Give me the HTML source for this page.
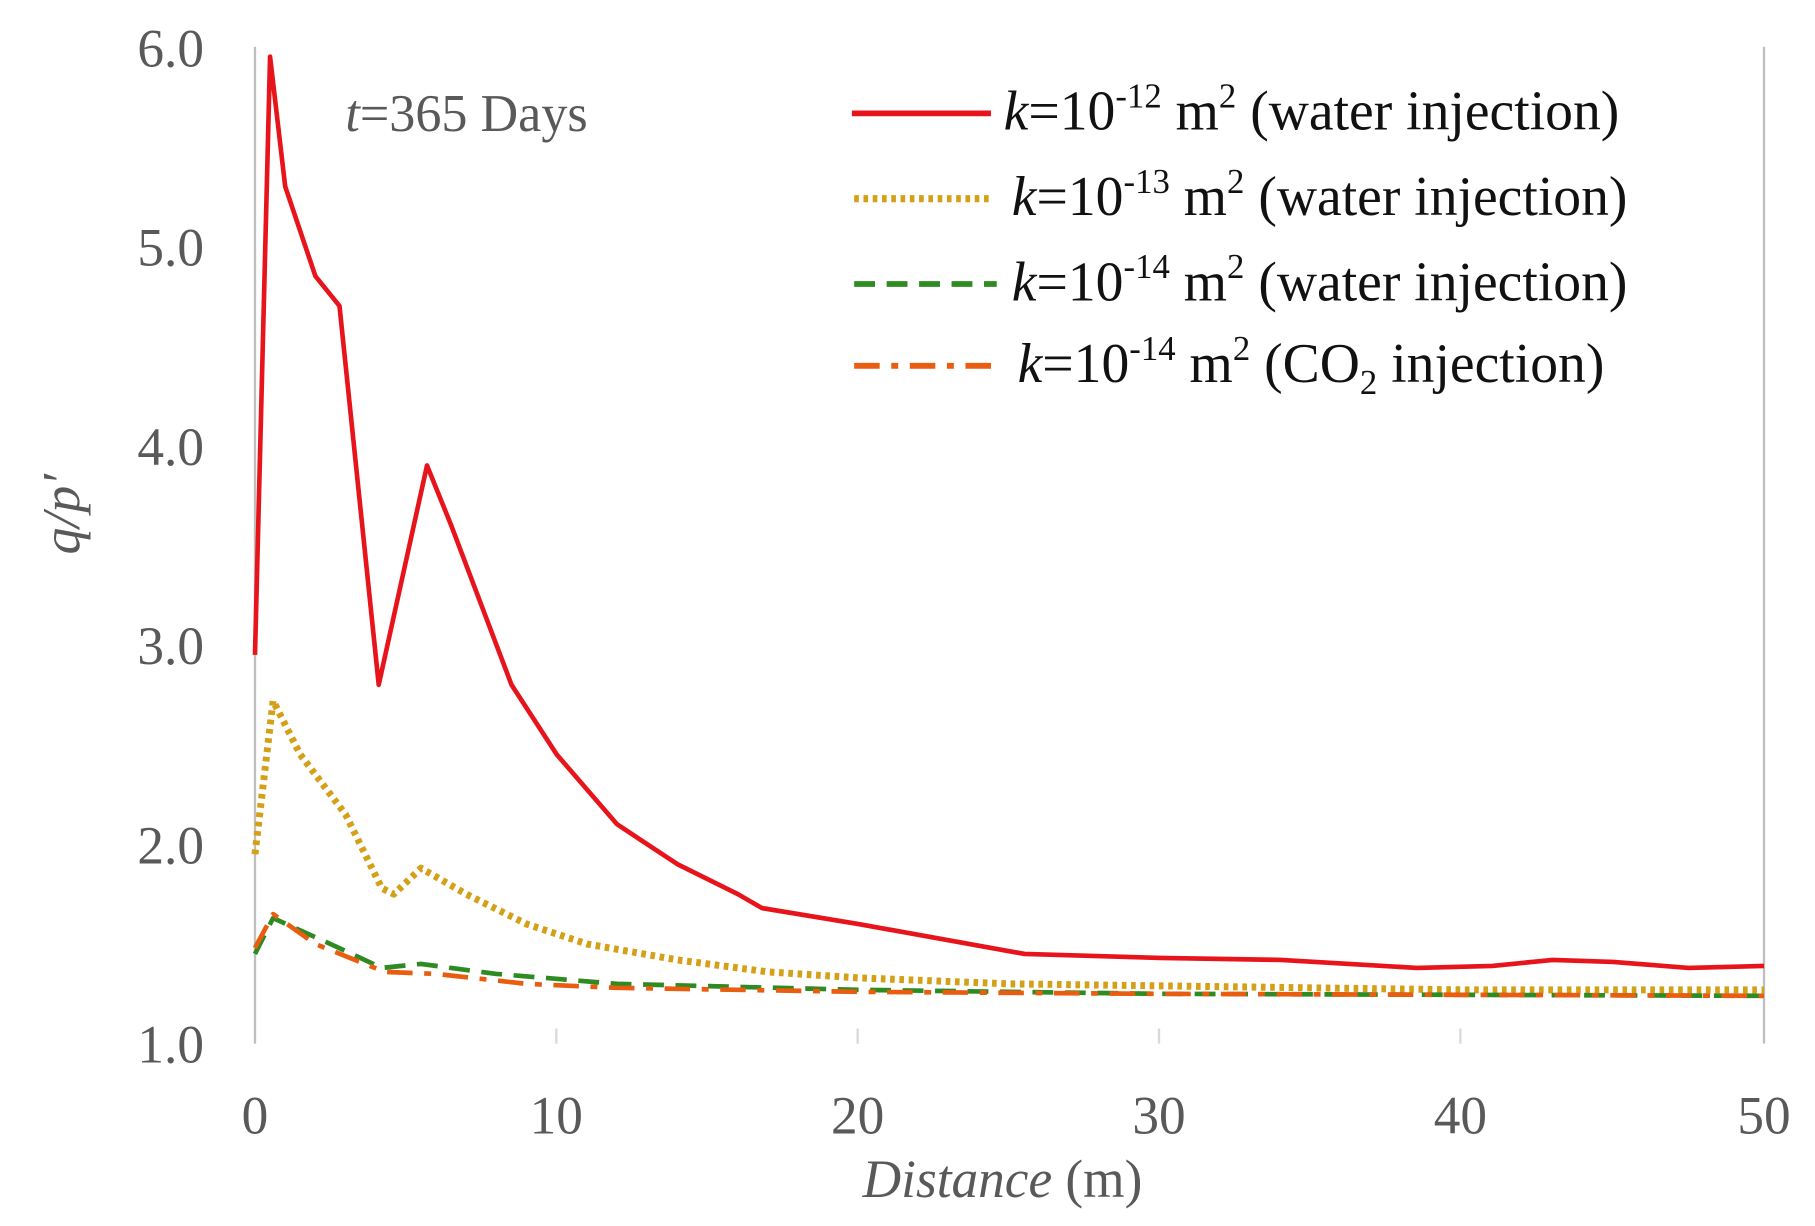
<!DOCTYPE html>
<html><head><style>html,body{margin:0;padding:0;background:#fff}svg{display:block}</style></head>
<body>
<svg id="s" width="1815" height="1226" viewBox="0 0 1566 1049" preserveAspectRatio="none" xmlns="http://www.w3.org/2000/svg" font-family="Liberation Serif, serif" fill="#595959">
<line x1="220" y1="40" x2="220" y2="893" stroke="#bfbfbf" stroke-width="2"/>
<line x1="1522" y1="40" x2="1522" y2="893" stroke="#bfbfbf" stroke-width="2"/>
<g stroke="#d9d9d9" stroke-width="2"><line x1="480" y1="880" x2="480" y2="893"/><line x1="740" y1="880" x2="740" y2="893"/><line x1="1000" y1="880" x2="1000" y2="893"/><line x1="1260" y1="880" x2="1260" y2="893"/></g>
<g font-size="46" text-anchor="end">
<text x="176" y="57">6.0</text><text x="176" y="227">5.0</text><text x="176" y="398">4.0</text><text x="176" y="568">3.0</text><text x="176" y="739">2.0</text><text x="176" y="909">1.0</text></g>
<g font-size="46" text-anchor="middle">
<text x="220" y="970">0</text><text x="480" y="970">10</text><text x="740" y="970">20</text><text x="1000" y="970">30</text><text x="1260" y="970">40</text><text x="1522" y="970">50</text></g>
<text x="865" y="1024" font-size="46" text-anchor="middle"><tspan font-style="italic">Distance</tspan> (m)</text>
<text transform="translate(68,440) rotate(-90)" font-size="46" text-anchor="middle" font-style="italic">q/p′</text>
<text x="298" y="112" font-size="45"><tspan font-style="italic">t</tspan>=365 Days</text>
<g id="series" fill="none" stroke-width="4"></g>
<g stroke-width="5" fill="none">
<line x1="735" y1="97" x2="855" y2="97" stroke="#e8141c"/>
<line x1="737" y1="170" x2="855" y2="170" stroke="#d4a017" stroke-dasharray="4 4" stroke-width="6"/>
<line x1="737" y1="243" x2="860" y2="243" stroke="#2e8b22" stroke-dasharray="18 10"/>
<line x1="737" y1="313" x2="865" y2="313" stroke="#e85d10" stroke-dasharray="22 10 6 10"/>
</g>
<g font-size="48" fill="#111">
<text x="866" y="111"><tspan font-style="italic">k</tspan>=10<tspan font-size="30" dy="-19">-12</tspan><tspan dy="19"> m</tspan><tspan font-size="30" dy="-19">2</tspan><tspan dy="19"> (water injection)</tspan></text>
<text x="873" y="184"><tspan font-style="italic">k</tspan>=10<tspan font-size="30" dy="-19">-13</tspan><tspan dy="19"> m</tspan><tspan font-size="30" dy="-19">2</tspan><tspan dy="19"> (water injection)</tspan></text>
<text x="873" y="257"><tspan font-style="italic">k</tspan>=10<tspan font-size="30" dy="-19">-14</tspan><tspan dy="19"> m</tspan><tspan font-size="30" dy="-19">2</tspan><tspan dy="19"> (water injection)</tspan></text>
<text x="878" y="327"><tspan font-style="italic">k</tspan>=10<tspan font-size="30" dy="-19">-14</tspan><tspan dy="19"> m</tspan><tspan font-size="30" dy="-19">2</tspan><tspan dy="19"> (CO</tspan><tspan font-size="30" dy="10">2</tspan><tspan dy="-10"> injection)</tspan></text>
</g>
<script>
var X=function(d){return 220+26.04*d},Y=function(v){return 893-170.6*(v-1)};
var S=[
["#e8141c","",4,[[0,2.95],[0.5,5.95],[1,5.3],[2,4.85],[2.8,4.7],[4.1,2.8],[5.7,3.9],[6.5,3.6],[8.5,2.8],[10,2.45],[12,2.1],[14,1.9],[16,1.75],[16.8,1.68],[20,1.6],[25.5,1.45],[30,1.43],[34,1.42],[38.5,1.38],[41,1.39],[43,1.42],[45,1.41],[47.5,1.38],[50,1.39]]],
["#d4a017","4 4",6,[[0,1.95],[0.6,2.72],[1.5,2.45],[3,2.15],[4.2,1.78],[4.6,1.75],[5.5,1.88],[7,1.75],[9,1.6],[11,1.5],[14,1.42],[17,1.36],[20,1.33],[25,1.3],[30,1.29],[40,1.27],[50,1.27]]],
["#2e8b22","18 10",4,[[0,1.45],[0.6,1.63],[2.5,1.5],[4.2,1.38],[5.5,1.4],[8,1.35],[12,1.3],[20,1.27],[30,1.25],[50,1.24]]],
["#e85d10","22 10 6 10",4,[[0,1.48],[0.6,1.65],[2,1.5],[4.3,1.36],[6,1.35],[9,1.3],[12,1.28],[20,1.26],[30,1.25],[50,1.24]]]];
var g=document.getElementById("series");
S.forEach(function(s){var p=document.createElementNS("http://www.w3.org/2000/svg","polyline");
p.setAttribute("points",s[3].map(function(q){return X(q[0])+","+Y(q[1])}).join(" "));
p.setAttribute("stroke",s[0]);p.setAttribute("stroke-width",s[2]);if(s[1])p.setAttribute("stroke-dasharray",s[1]);
p.setAttribute("stroke-linejoin","round");g.appendChild(p);});
</script>
</svg>
</body></html>
